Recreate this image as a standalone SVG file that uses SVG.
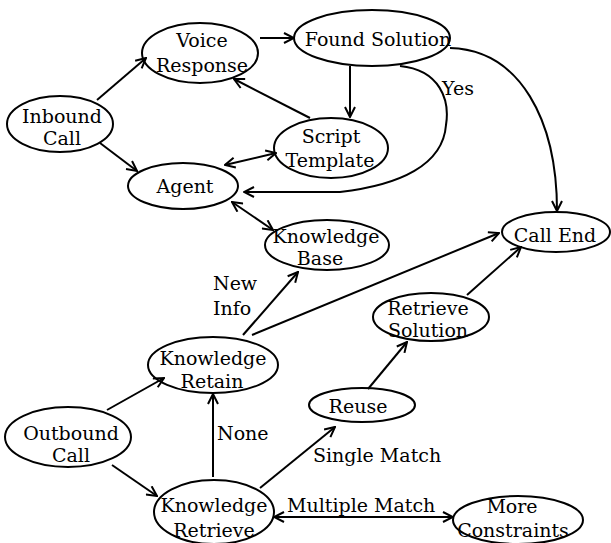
<svg xmlns="http://www.w3.org/2000/svg" width="611" height="543" viewBox="0 0 611 543">
<style>
.n ellipse{fill:none;stroke:#000;stroke-width:2}
text{font-family:"DejaVu Serif","Liberation Serif",serif;font-size:19px;fill:#000}
.c{text-anchor:middle}
#edges path{fill:none;stroke:#000;stroke-width:2}
</style>
<defs>
<marker id="a" viewBox="0 0 12 12" refX="11" refY="6" markerWidth="12" markerHeight="12" markerUnits="userSpaceOnUse" orient="auto-start-reverse">
<path d="M1,1 L11,6 L1,11" fill="none" stroke="#000" stroke-width="2"/>
</marker>
</defs>
<rect width="611" height="543" fill="#fff"/>
<g id="edges">
<path d="M97,100 L146,58" marker-end="url(#a)"/>
<path d="M100,143 L137,171" marker-end="url(#a)"/>
<path d="M260,38 L294,38" marker-end="url(#a)"/>
<path d="M310,118 L234,79" marker-end="url(#a)"/>
<path d="M350,66 L350,117" marker-end="url(#a)"/>
<path d="M225,165 L276,153" marker-start="url(#a)" marker-end="url(#a)"/>
<path d="M400,66 C440,70 450,100 446,125 C443,165 400,185 340,192 L244,192" marker-end="url(#a)"/>
<path d="M450,48 C520,50 557,120 557,211" marker-end="url(#a)"/>
<path d="M232,202 L273,230" marker-start="url(#a)" marker-end="url(#a)"/>
<path d="M243,335 L298,272" marker-end="url(#a)"/>
<path d="M252,335 L499,233" marker-end="url(#a)"/>
<path d="M467,295 L521,247" marker-end="url(#a)"/>
<path d="M368,389 L407,342" marker-end="url(#a)"/>
<path d="M260,488 L335,427" marker-end="url(#a)"/>
<path d="M213,477 L213,394" marker-end="url(#a)"/>
<path d="M107,410 L164,378" marker-end="url(#a)"/>
<path d="M112,465 L157,496" marker-end="url(#a)"/>
<path d="M274,517 L453,517" marker-start="url(#a)" marker-end="url(#a)"/>
<text x="442" y="95">Yes</text>
<text x="213" y="290">New</text>
<text x="213" y="315">Info</text>
<text x="217" y="440">None</text>
<text x="313" y="462">Single Match</text>
<text x="287" y="512">Multiple Match</text>
</g>
<g id="voice" class="n"><ellipse cx="200" cy="53" rx="58" ry="30"/><text class="c" x="202" y="47">Voice</text><text class="c" x="202" y="72">Response</text></g>
<g id="found" class="n"><ellipse cx="372" cy="38" rx="78" ry="28"/><text class="c" x="378" y="46">Found Solution</text></g>
<g id="inbound" class="n"><ellipse cx="60" cy="124" rx="53" ry="28"/><text class="c" x="62" y="123">Inbound</text><text class="c" x="62" y="145">Call</text></g>
<g id="agent" class="n"><ellipse cx="183" cy="186" rx="55" ry="23"/><text class="c" x="185" y="193">Agent</text></g>
<g id="script" class="n"><ellipse cx="331" cy="148" rx="57" ry="30"/><text class="c" x="331" y="143">Script</text><text class="c" x="330" y="167">Template</text></g>
<g id="kbase" class="n"><ellipse cx="327" cy="245" rx="62" ry="25"/><text class="c" x="326" y="243">Knowledge</text><text class="c" x="320" y="265">Base</text></g>
<g id="callend" class="n"><ellipse cx="556" cy="232" rx="54" ry="20"/><text class="c" x="555" y="242">Call End</text></g>
<g id="retsol" class="n"><ellipse cx="431" cy="317" rx="58" ry="24"/><text class="c" x="428" y="315">Retrieve</text><text class="c" x="428" y="337">Solution</text></g>
<g id="retain" class="n"><ellipse cx="213" cy="365" rx="65" ry="28"/><text class="c" x="213" y="365">Knowledge</text><text class="c" x="212" y="388">Retain</text></g>
<g id="reuse" class="n"><ellipse cx="362" cy="405" rx="53" ry="17"/><text class="c" x="358" y="413">Reuse</text></g>
<g id="outbound" class="n"><ellipse cx="68" cy="437" rx="63" ry="30"/><text class="c" x="71" y="440">Outbound</text><text class="c" x="71" y="462">Call</text></g>
<g id="retrieve" class="n"><ellipse cx="214" cy="512" rx="60" ry="32"/><text class="c" x="214" y="512">Knowledge</text><text class="c" x="214" y="537">Retrieve</text></g>
<g id="more" class="n"><ellipse cx="518" cy="520" rx="65" ry="24"/><text class="c" x="512" y="513">More</text><text class="c" x="513" y="537">Constraints</text></g>
</svg>
